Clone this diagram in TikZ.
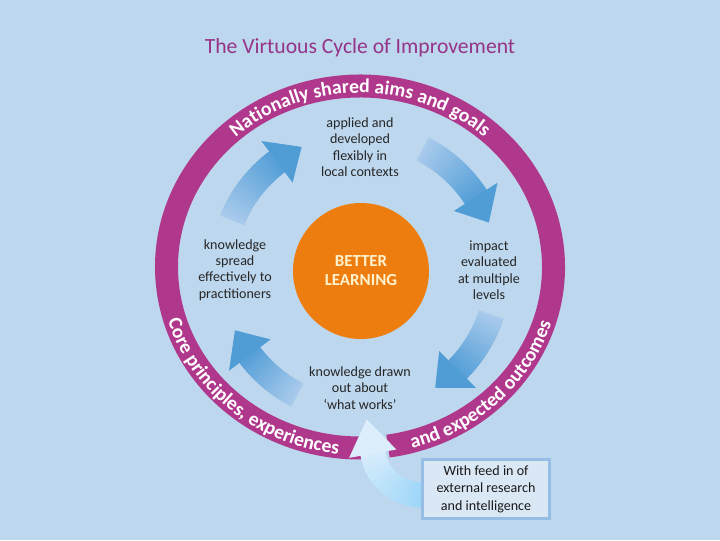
\documentclass[tikz,border=0pt]{standalone}
\usepackage{fontspec}
\setmainfont{Carlito}
\usetikzlibrary{calc,decorations.text}
\definecolor{bgblue}{RGB}{189,215,238}
\definecolor{ringpurple}{RGB}{176,56,140}
\definecolor{titlepurple}{RGB}{150,52,136}
\definecolor{coreorange}{RGB}{237,125,15}
\definecolor{betteryellow}{RGB}{255,242,204}
\definecolor{arrowdark}{RGB}{80,157,214}
\definecolor{arrowlight}{RGB}{168,202,236}
\definecolor{feeddark}{RGB}{140,208,248}
\definecolor{feedlight}{RGB}{220,238,252}
\definecolor{boxfill}{RGB}{218,232,246}
\definecolor{boxedge}{RGB}{150,190,228}
\newcommand\unitpx{0.025cm}
\newcommand\ringfont{\fontsize{14}{16}\selectfont\bfseries}
% one blue arrow of the cycle: tail angle, head base angle, tip angle
\newcommand\cyclearrow[3]{%
  \foreach \k in {0,...,23}{
    \pgfmathsetmacro\aa{#1+(#2-#1)*\k/24}
    \pgfmathsetmacro\ab{#1+(#2-#1)*(\k+1.3)/24}
    \pgfmathtruncatemacro\mix{100-\k*4}
    \draw[line width=26*\unitpx,draw=arrowlight!\mix!arrowdark]
      ($(ac)+(\aa:138)$) arc[start angle=\aa,end angle=\ab,radius=138];
  }
  \fill[arrowdark] ($(ac)+(#2:112)$) -- ($(ac)+(#2:164)$) -- ($(ac)+(#3:138)$) -- cycle;
}
\begin{document}
\begin{tikzpicture}[x=0.025cm,y=0.025cm,
  ringtext/.style={decorate,decoration={text along path,text align=center,text color=white}},
  steptext/.style={align=center,font=\fontsize{10}{11.7}\selectfont,text=black!85}]
\fill[bgblue] (0,0) rectangle (720,540);
\coordinate (rc) at (360,273);
\coordinate (ac) at (360,268);
\coordinate (fc) at (422,95);

\node[font=\fontsize{15.4}{18}\selectfont,text=titlepurple] (title) at (360,492) {The Virtuous Cycle of Improvement};

% outer ring with its three texts
\draw[ringpurple,line width=23*\unitpx] ($(rc)+(278.3:193.5 and 181)$)
  arc[start angle=278.3,end angle=630.6,x radius=193.5,y radius=181];
\path[ringtext,decoration={text={|\ringfont|Nationally shared aims and goals}}]
  ($(rc)+(150:186.5 and 174)$) arc[start angle=150,end angle=30,x radius=186.5,y radius=174];
\path[ringtext,decoration={text={|\ringfont|Core principles, experiences}}]
  ($(rc)+(190:200.5 and 188)$) arc[start angle=190,end angle=270,x radius=200.5,y radius=188];
\path[ringtext,decoration={text={|\ringfont|and expected outcomes}}]
  ($(rc)+(280:200.5 and 188)$) arc[start angle=280,end angle=348,x radius=200.5,y radius=188];

% the four arrows of the cycle
\cyclearrow{158}{127}{115}
\cyclearrow{63}{33}{21}
\cyclearrow{-18}{-45}{-57}
\cyclearrow{243}{217}{205}

\node[circle,fill=coreorange,minimum size=136*\unitpx,inner sep=0pt] (core) at (361,269) {};
\node[align=center,font=\bfseries\fontsize{12}{13.5}\selectfont,text=betteryellow] (better) at (core) {BETTER\\LEARNING};

\node[steptext] (applied) at (360,393) {applied and\\developed\\flexibly in\\local contexts};
\node[steptext] (impact) at (489,270) {impact\\evaluated\\at multiple\\levels};
\node[steptext] (drawn) at (360,152) {knowledge drawn\\out about\\‘what works’};
\node[steptext] (spread) at (235,270) {knowledge\\spread\\effectively to\\practitioners};

% feed in arrow from the box
\foreach \k in {0,...,23}{
  \pgfmathsetmacro\aa{295-105*\k/24}
  \pgfmathsetmacro\ab{295-105*(\k+1.3)/24}
  \pgfmathtruncatemacro\mix{100-\k*4}
  \draw[line width=25*\unitpx,draw=feeddark!\mix!feedlight]
    ($(fc)+(\aa:50)$) arc[start angle=\aa,end angle=\ab,radius=50];
}
\fill[feedlight] ($(fc)+(190:26)$) -- ($(fc)+(190:74)$) -- ($(fc)+(190:50)+(100:35)$) -- cycle;

\node[draw=boxedge,line width=2.5*\unitpx,fill=boxfill,minimum width=127*\unitpx,minimum height=59*\unitpx,
  align=center,font=\fontsize{10}{12.4}\selectfont,text=black!90] (feedbox) at (486,51)
  {With feed in of\\external research\\and intelligence};
\end{tikzpicture}
\end{document}
